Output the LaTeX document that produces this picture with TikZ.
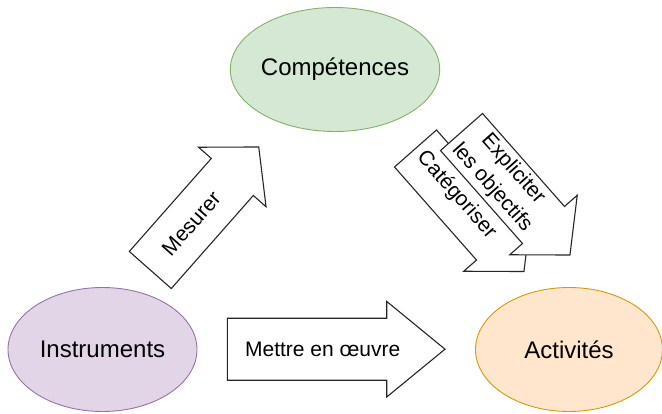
\documentclass[tikz,border=0pt]{standalone}
\usepackage{fontspec}
\setmainfont{Liberation Sans}
\definecolor{purplefill}{HTML}{E1D5E7}
\definecolor{purpleline}{HTML}{9673A6}
\definecolor{greenfill}{HTML}{D5E8D4}
\definecolor{greenline}{HTML}{82B366}
\definecolor{orangefill}{HTML}{FFE6CC}
\definecolor{orangeline}{HTML}{D79B00}
\tikzset{
  bubble/.style={ellipse, minimum width=189pt, minimum height=124pt, inner sep=0pt, line width=0.9pt, font=\fontsize{24}{28}\selectfont},
  fatarrow/.style={draw=black!85, fill=white, line width=1.1pt, line join=miter},
  arrowtext/.style={font=\fontsize{21}{28}\selectfont, align=center, inner sep=0pt},
}
\usetikzlibrary{shapes.geometric}
\begin{document}
\begin{tikzpicture}[x=1pt,y=1pt]
\useasboundingbox (0,0) rectangle (662,413);
% ellipses
\node[bubble, draw=greenline, fill=greenfill] (comp) at (335,343.5) {Compétences};
\node[bubble, draw=purpleline, fill=purplefill] (instr) at (102.5,63.5) {Instruments};
\node[bubble, draw=orangeline, fill=orangefill, minimum width=187pt] (activ) at (569,63.5) {Activités};
% Mettre en oeuvre
\draw[fatarrow] (227.3,32.8) -- (386.7,32.8) -- (386.7,16) -- (445,63.8) -- (386.7,111.6) -- (386.7,94.8) -- (227.3,94.8) -- cycle;
\node[arrowtext] (mettre) at (322.7,63.5) {Mettre en œuvre};
% Mesurer
\begin{scope}[shift={(150.3,143)}, rotate=48.6]
\draw[fatarrow] (0,-28) -- (124,-28) -- (124,-45) -- (164,0) -- (124,45) -- (124,28) -- (0,28) -- cycle;
\node[arrowtext, transform shape] (mesurer) at (62,0) {Mesurer};
\end{scope}
% Categoriser (behind)
\begin{scope}[shift={(415.5,264.5)}, rotate=-48.6]
\draw[fatarrow] (0,-28) -- (124,-28) -- (124,-45) -- (164,0) -- (124,45) -- (124,28) -- (0,28) -- cycle;
\node[arrowtext, transform shape] (categ) at (62,0) {Catégoriser};
\end{scope}
% Expliciter les objectifs (front)
\begin{scope}[shift={(461.5,281)}, rotate=-48.6]
\draw[fatarrow] (0,-28) -- (124,-28) -- (124,-45) -- (164,0) -- (124,45) -- (124,28) -- (0,28) -- cycle;
\node[arrowtext, transform shape] (expl) at (62,0) {Expliciter\\les objectifs};
\end{scope}
\end{tikzpicture}
\end{document}
